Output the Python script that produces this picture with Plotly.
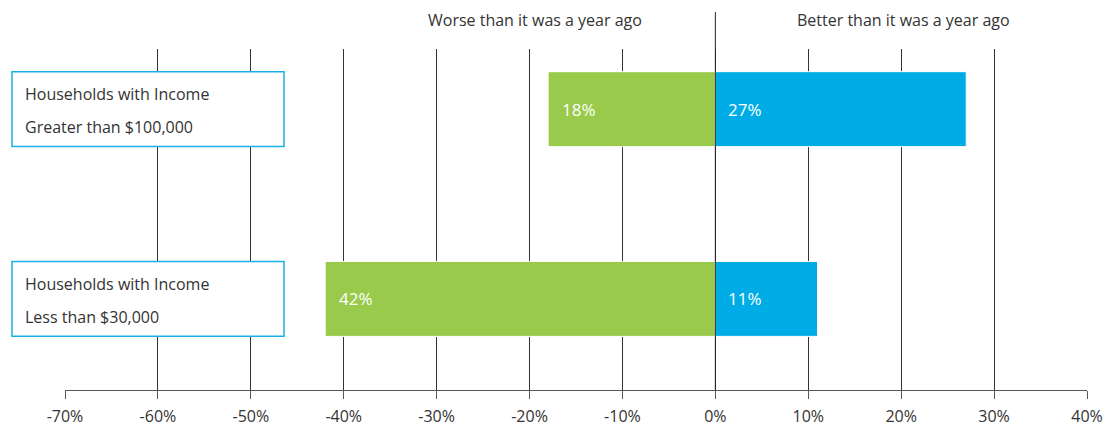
import plotly.graph_objects as go

categories = ["Households with Income<br>Less than $30,000",
              "Households with Income<br>Greater than $100,000"]
worse = [42, 18]
better = [11, 27]
tick_vals = [-70, -60, -50, -40, -30, -20, -10, 0, 10, 20, 30, 40]
tick_text = ["-70%", "-60%", "-50%", "-40%", "-30%", "-20%", "-10%", "0%", "10%", "20%", "30%", "40%"]
header_left = "Worse than it was a year ago"
header_right = "Better than it was a year ago"

GREEN = "#99CA4B"
BLUE = "#00ACE6"
FONT = "Open Sans"
ypos = [0, 1]

fig = go.Figure()
fig.add_trace(go.Bar(y=ypos, x=[-v for v in worse], orientation="h", base=0,
                     marker=dict(color=GREEN, line=dict(color="white", width=1)),
                     width=0.395, hoverinfo="skip"))
fig.add_trace(go.Bar(y=ypos, x=better, orientation="h", base=0,
                     marker=dict(color=BLUE, line=dict(color="white", width=1)),
                     width=0.395, hoverinfo="skip"))

annotations = []
for y, w, b in zip(ypos, worse, better):
    annotations.append(dict(x=-w, y=y, xref="x", yref="y", text=f"{w}%", showarrow=False,
                            xanchor="left", xshift=12, font=dict(color="white", size=17, family=FONT)))
    annotations.append(dict(x=0, y=y, xref="x", yref="y", text=f"{b}%", showarrow=False,
                            xanchor="left", xshift=11, font=dict(color="white", size=17, family=FONT)))

shapes = []
L, R = 65, 1087
T, B = 49, 390
def px_x(p):
    return (p - L) / (R - L)
def px_y(p):
    return (B - p) / (B - T)

for y, cat in zip(ypos, categories):
    lines = cat.split("<br>")
    shapes.append(dict(type="rect", xref="paper", yref="y", x0=px_x(12), x1=px_x(284),
                       y0=y - 0.197, y1=y + 0.197, line=dict(color="#1AB0E8", width=1.5),
                       fillcolor="white", layer="above"))
    annotations.append(dict(x=px_x(23), y=y, xref="paper", yref="y", text=lines[0],
                            showarrow=False, xanchor="left", yshift=15,
                            font=dict(color="#333333", size=16, family=FONT)))
    annotations.append(dict(x=px_x(23), y=y, xref="paper", yref="y", text=lines[1],
                            showarrow=False, xanchor="left", yshift=-18,
                            font=dict(color="#333333", size=16, family=FONT)))

shapes.append(dict(type="line", xref="x", yref="paper", x0=0, x1=0, y0=0, y1=px_y(12),
                   line=dict(color="#222222", width=1), layer="above"))

annotations.append(dict(x=px_x(535), y=px_y(20), xref="paper", yref="paper", text=header_left,
                        showarrow=False, yanchor="middle", xanchor="center",
                        font=dict(color="#333333", size=16, family=FONT)))
annotations.append(dict(x=px_x(903), y=px_y(20), xref="paper", yref="paper", text=header_right,
                        showarrow=False, yanchor="middle", xanchor="center",
                        font=dict(color="#333333", size=16, family=FONT)))

fig.update_layout(
    width=1115, height=429,
    margin=dict(l=L, r=1115 - R, t=T, b=429 - B, autoexpand=False),
    barmode="overlay", showlegend=False,
    paper_bgcolor="white", plot_bgcolor="white",
    font=dict(family=FONT, color="#333333"),
    xaxis=dict(range=[-70, 40], tickvals=tick_vals, ticktext=tick_text,
               showgrid=True, gridcolor="#333333", gridwidth=1,
               zeroline=False, showline=True, linecolor="#555555", linewidth=1,
               ticks="outside", ticklen=8, tickcolor="#555555", ticklabelstandoff=4,
               automargin=False,
               tickfont=dict(size=16, color="#333333", family=FONT), fixedrange=True),
    yaxis=dict(range=[-0.48, 1.317], showgrid=False, zeroline=False, showticklabels=False,
               showline=False, fixedrange=True, automargin=False),
    shapes=shapes, annotations=annotations,
)

fig.write_html("out.html")
